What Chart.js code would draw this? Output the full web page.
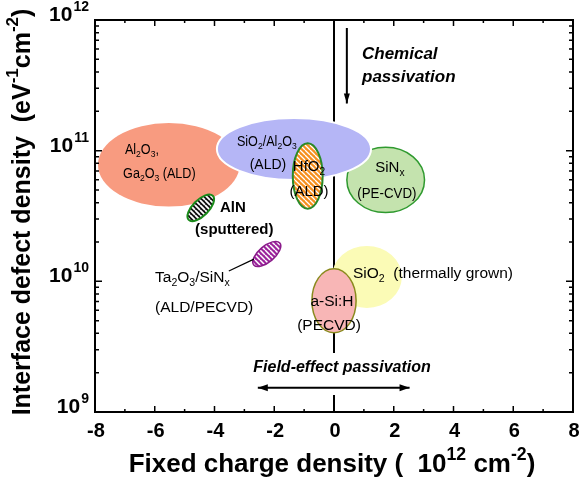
<!DOCTYPE html>
<html>
<head>
<meta charset="utf-8">
<script src="https://cdn.jsdelivr.net/npm/chart.js@4.4.1/dist/chart.umd.min.js"></script>
<style>
  html, body { margin: 0; padding: 0; background: #fff; }
  #wrap { width: 580px; height: 489px; }
</style>
</head>
<body>
<div id="wrap"><canvas id="chart" width="580" height="489"></canvas></div>
<script>
// axis ticks
const xTicks = [-8, -6, -4, -2, 0, 2, 4, 6, 8];
const yTicks = [1e9, 1e10, 1e11, 1e12];
const yTickExp = ['9', '10', '11', '12'];

// passivation layers: centre (fixed charge, Dit), half width (1e12 cm-2), half height (decades), tilt (deg)
const layerNames = ['Al2O3/Ga2O3', 'SiNx', 'SiO2 thermal', 'SiO2/Al2O3', 'HfO2', 'AlN', 'Ta2O5/SiNx', 'a-Si:H'];
const layerQf = [-5.53, 1.73, 1.10, -1.34, -0.88, -4.46, -2.25, 0.0];
const layerDit = [7.8e10, 5.97e10, 1.08e10, 1.03e11, 6.4e10, 3.65e10, 1.62e10, 7.1e9];
const layerHalfQf = [2.37, 1.30, 1.17, 2.58, 0.50, 0.57, 0.57, 0.74];
const layerHalfDec = [0.32, 0.25, 0.237, 0.237, 0.25, 0.061, 0.061, 0.245];
const layerTilt = [0, 0, 0, 0, 0, -45, -40, 0];

// guide lines
const zeroLineX = [0, 0, null, 0, 0];
const zeroLineY = [1e12, 2.83e9, null, 1.35e9, 1e9];
const chemArrowX = [0.43, 0.43];
const chemArrowY = [8.7e11, 2.3e11];
const fieldArrowX = [-2.55, 2.53];
const fieldArrowY = [1.53e9, 1.53e9];
const leaderX = [-3.52, -2.68];
const leaderY = [1.2e10, 1.48e10];

const pts = (xs, ys) => xs.map((x, i) => ({ x: x, y: ys[i] }));

function hatch(bg, fg, lw) {
  const p = 5;
  const c = document.createElement('canvas');
  c.width = p; c.height = p;
  const g = c.getContext('2d');
  g.fillStyle = bg; g.fillRect(0, 0, p, p);
  g.strokeStyle = fg; g.lineWidth = lw;
  g.beginPath();
  g.moveTo(0, 0); g.lineTo(p, p);
  g.moveTo(-p, 0); g.lineTo(0, p);
  g.moveTo(0, -p); g.lineTo(p, 0);
  g.stroke();
  return g.createPattern(c, 'repeat');
}

const FONT = '"Liberation Sans", Arial, sans-serif';

// text with sub/superscripts; sx squeezes it horizontally
function rich(ctx, parts, x, y, size, align, style, sx) {
  style = style || '';
  sx = sx || 1;
  const f = s => style + ' ' + s + 'px ' + FONT;
  let w = 0;
  parts.forEach(p => {
    ctx.font = f(p[1] ? size * 0.68 : size);
    w += ctx.measureText(p[0]).width;
  });
  const start = align === 'center' ? x - w * sx / 2 : align === 'right' ? x - w * sx : x;
  ctx.save();
  ctx.translate(start, y);
  ctx.scale(sx, 1);
  ctx.textAlign = 'left';
  ctx.textBaseline = 'middle';
  let cx = 0;
  parts.forEach(p => {
    ctx.font = f(p[1] ? size * 0.68 : size);
    let dy = 0;
    if (p[1] === 'sub') dy = size * 0.32;
    if (p[1] === 'sup') dy = -size * 0.38;
    ctx.fillText(p[0], cx, dy);
    cx += ctx.measureText(p[0]).width;
  });
  ctx.restore();
}

const ellipsePlugin = {
  id: 'ellipses',
  afterDatasetDraw(chart, args) {
    if (args.index !== 3) return; // right after the zero line, below the arrows
    const ctx = chart.ctx, xs = chart.scales.x, ys = chart.scales.y;
    const fills = ['#f89b80', '#c4e3ae', '#fbfbb6', '#b5b6f6',
      hatch('#f6901e', '#ffffff', 1.3), hatch('#111111', '#ffffff', 1.8),
      hatch('#9c239c', '#ffffff', 1.5), '#f8b6b6'];
    const strokes = [null, '#2f9a2f', null, '#ffffff', '#2a8a2a', '#1a8a1a', '#8a1a8a', '#8a8a1e'];
    const widths = [0, 1.5, 0, 2, 2, 2, 1.5, 1.5];
    ctx.save();
    layerNames.forEach((n, i) => {
      const cx = xs.getPixelForValue(layerQf[i]);
      const cy = ys.getPixelForValue(layerDit[i]);
      const rx = Math.abs(xs.getPixelForValue(layerQf[i] + layerHalfQf[i]) - cx);
      const ry = Math.abs(ys.getPixelForValue(layerDit[i] * Math.pow(10, layerHalfDec[i])) - cy);
      ctx.beginPath();
      ctx.ellipse(cx, cy, rx, ry, layerTilt[i] * Math.PI / 180, 0, Math.PI * 2);
      ctx.fillStyle = fills[i];
      ctx.fill();
      if (strokes[i]) {
        ctx.strokeStyle = strokes[i];
        ctx.lineWidth = widths[i];
        ctx.stroke();
      }
    });
    ctx.restore();
  }
};

function head(ctx, tip, from, len, half) {
  const a = Math.atan2(tip.y - from.y, tip.x - from.x);
  ctx.beginPath();
  ctx.moveTo(tip.x, tip.y);
  ctx.lineTo(tip.x - len * Math.cos(a) + half * Math.sin(a), tip.y - len * Math.sin(a) - half * Math.cos(a));
  ctx.lineTo(tip.x - len * Math.cos(a) - half * Math.sin(a), tip.y - len * Math.sin(a) + half * Math.cos(a));
  ctx.closePath();
  ctx.fill();
}

const decorPlugin = {
  id: 'decor',
  afterDraw(chart) {
    const ctx = chart.ctx, xs = chart.scales.x, ys = chart.scales.y;
    const a = chart.chartArea;
    ctx.save();
    ctx.fillStyle = '#000';

    // arrow heads
    const chem = chart.getDatasetMeta(0).data;
    head(ctx, chem[1], chem[0], 10, 3);
    const fld = chart.getDatasetMeta(1).data;
    head(ctx, fld[0], fld[1], 10, 3.5);
    head(ctx, fld[1], fld[0], 10, 3.5);

    // frame
    ctx.strokeStyle = '#000';
    ctx.lineWidth = 2;
    ctx.strokeRect(a.left, a.top, a.right - a.left, a.bottom - a.top);

    // x ticks (bottom + top, inward)
    ctx.lineWidth = 1.5;
    ctx.beginPath();
    for (let v = -8; v <= 8; v++) {
      const px = xs.getPixelForValue(v);
      const len = v % 2 === 0 ? 6 : 3;
      ctx.moveTo(px, a.bottom); ctx.lineTo(px, a.bottom - len);
      ctx.moveTo(px, a.top); ctx.lineTo(px, a.top + len);
    }
    // y ticks, log minors
    for (let e = 9; e < 12; e++) {
      for (let m = 1; m <= 9; m++) {
        const py = ys.getPixelForValue(m * Math.pow(10, e));
        const len = m === 1 ? 7 : 4;
        ctx.moveTo(a.left, py); ctx.lineTo(a.left + len, py);
        ctx.moveTo(a.right, py); ctx.lineTo(a.right - len, py);
      }
    }
    ctx.stroke();

    // tick labels
    ctx.textAlign = 'center';
    ctx.textBaseline = 'middle';
    ctx.font = 'bold 20px ' + FONT;
    xTicks.forEach(v => ctx.fillText(String(v), xs.getPixelForValue(v) + 1, a.bottom + 19));
    yTicks.forEach((v, i) => {
      const py = ys.getPixelForValue(v);
      ctx.font = 'bold 14px ' + FONT;
      ctx.textAlign = 'right';
      ctx.textBaseline = 'alphabetic';
      const sw = ctx.measureText(yTickExp[i]).width;
      ctx.fillText(yTickExp[i], a.left - 6, py - 9);
      ctx.font = 'bold 21px ' + FONT;
      ctx.fillText('10', a.left - 7 - sw, py + 1);
    });

    // axis titles
    rich(ctx, [['Fixed charge density (  10'], ['12', 'sup'], [' cm'], ['-2', 'sup'], [')']],
      332, 465, 26, 'center', 'bold');
    ctx.save();
    ctx.translate(23, 212);
    ctx.rotate(-Math.PI / 2);
    rich(ctx, [['Interface defect density  (eV'], ['-1', 'sup'], ['cm'], ['-2', 'sup'], [')']],
      0, 0, 25, 'center', 'bold');
    ctx.restore();

    // layer labels
    const L = (parts, x, ly, align, size, style, sx) =>
      rich(ctx, parts, xs.getPixelForValue(x), ys.getPixelForValue(Math.pow(10, ly)), size || 14, align || 'left', style, sx);
    L([['Al'], ['2', 'sub'], ['O'], ['3', 'sub'], [',']], -7.0, 11.005, 'left', 14, '', 0.9);
    L([['Ga'], ['2', 'sub'], ['O'], ['3', 'sub'], [' (ALD)']], -7.06, 10.821, 'left', 14, '', 0.9);
    L([['SiO'], ['2', 'sub'], ['/Al'], ['2', 'sub'], ['O'], ['3', 'sub']], -3.25, 11.066, 'left', 14, '', 0.9);
    L([['(ALD)']], -2.21, 10.89, 'center', 14);
    L([['HfO'], ['2', 'sub']], -0.837, 10.875, 'center', 15);
    L([['(ALD)']], -0.837, 10.684, 'center', 15);
    L([['SiN'], ['x', 'sub']], 1.87, 10.867, 'center', 15);
    L([['(PE-CVD)']], 1.77, 10.668, 'center', 14, '', 0.95);
    L([['Ta'], ['2', 'sub'], ['O'], ['3', 'sub'], ['/SiN'], ['x', 'sub']], -5.99, 10.026, 'left', 15.5);
    L([['(ALD/PECVD)']], -5.99, 9.796, 'left', 15.5);
    L([['SiO'], ['2', 'sub'], ['  (thermally grown)']], 0.636, 10.056, 'left', 15.5);
    L([['a-Si:H']], -0.067, 9.842, 'center', 15.5);
    L([['(PECVD)']], -0.167, 9.658, 'center', 15.5);
    L([['AlN']], -3.816, 10.561, 'left', 15, 'bold');
    L([['(sputtered)']], -4.65, 10.393, 'left', 15, 'bold');
    L([['Chemical']], 0.937, 11.74, 'left', 17, 'italic bold');
    L([['passivation']], 0.937, 11.564, 'left', 17, 'italic bold');
    L([['Field-effect passivation']], 0.27, 9.337, 'center', 16, 'italic bold');
    ctx.restore();
  }
};

const lineStyle = { showLine: true, pointRadius: 0, borderColor: '#000', fill: false };

new Chart(document.getElementById('chart'), {
  type: 'scatter',
  data: {
    datasets: [
      Object.assign({ label: 'Chemical passivation', data: pts(chemArrowX, chemArrowY), borderWidth: 2 }, lineStyle),
      Object.assign({ label: 'Field-effect passivation', data: pts(fieldArrowX, fieldArrowY), borderWidth: 2 }, lineStyle),
      Object.assign({ label: 'Ta2O5 leader', data: pts(leaderX, leaderY), borderWidth: 1.2 }, lineStyle),
      Object.assign({ label: 'Qf = 0', data: pts(zeroLineX, zeroLineY), borderWidth: 2, spanGaps: false }, lineStyle)
    ]
  },
  options: {
    responsive: false,
    animation: false,
    layout: { padding: { left: 95, right: 7, top: 20, bottom: 77 } },
    plugins: { legend: { display: false }, tooltip: { enabled: false } },
    scales: {
      x: { type: 'linear', min: -8, max: 8, display: false },
      y: { type: 'logarithmic', min: 1e9, max: 1e12, display: false }
    }
  },
  plugins: [ellipsePlugin, decorPlugin]
});
</script>
</body>
</html>
